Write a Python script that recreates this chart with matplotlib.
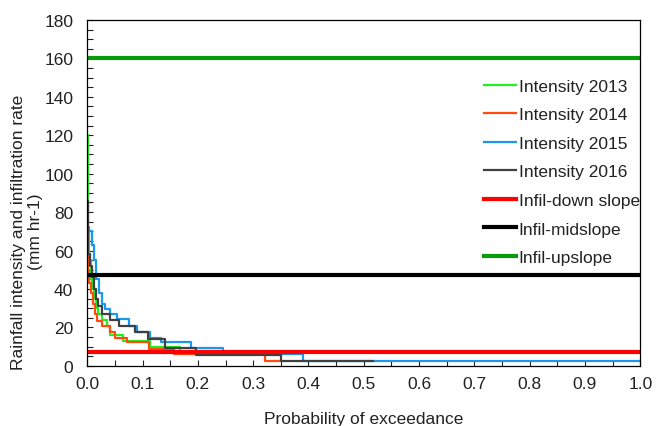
import matplotlib
matplotlib.use("Agg")
import matplotlib.pyplot as plt
from matplotlib.ticker import MultipleLocator

plt.rcParams['font.family'] = ['Liberation Sans', 'DejaVu Sans']

# exceedance-probability step curves: start of each step, value, last edge
p2013 = [0, 0.001, 0.003, 0.006, 0.009, 0.012, 0.016, 0.02, 0.027, 0.035, 0.041, 0.065, 0.113, 0.168]
v2013 = [120, 70, 55, 45, 40, 35, 30, 27, 24, 20.5, 16, 13, 9.6, 6]
end2013 = 0.2

p2014 = [0, 0.002, 0.004, 0.007, 0.01, 0.014, 0.018, 0.027, 0.042, 0.051, 0.072, 0.111, 0.157, 0.321]
v2014 = [58, 50, 43, 38, 32, 27, 23.4, 20.5, 17.4, 14.3, 12.2, 8.7, 6.1, 2.6]
end2014 = 0.351

p2015 = [0, 0.004, 0.008, 0.012, 0.016, 0.021, 0.027, 0.033, 0.042, 0.054, 0.075, 0.09, 0.113, 0.134, 0.188, 0.246, 0.39]
v2015 = [72, 70, 63, 55, 45, 38, 32, 29.5, 27, 24.3, 20.5, 17.7, 14.3, 12.2, 9, 6, 2.6]
end2015 = 1.0

p2016 = [0, 0.002, 0.005, 0.008, 0.012, 0.016, 0.02, 0.027, 0.042, 0.057, 0.087, 0.109, 0.141, 0.196, 0.351]
v2016 = [86, 58, 52, 46, 40, 35, 31, 27, 24, 20.8, 17.7, 13.9, 9.5, 5.6, 2.6]
end2016 = 0.517

infil_labels = ['Infil-down slope', 'Infil-midslope', 'Infil-upslope']
infil_rates = [7, 47, 160]
infil_colors = ['#ff0000', '#000000', '#0a9a0a']

fs = 12.5
txt = '#222222'

fig = plt.figure(figsize=(6.56, 4.27), dpi=100)
ax = fig.add_axes([0.133, 0.141, 0.843, 0.810])

series = [
    ('Intensity 2013', p2013, v2013, end2013, '#22ee22'),
    ('Intensity 2014', p2014, v2014, end2014, '#ff4a10'),
    ('Intensity 2015', p2015, v2015, end2015, '#1a98f0'),
    ('Intensity 2016', p2016, v2016, end2016, '#404040'),
]
for lab, p, v, end, col in series:
    ax.step(p + [end], v + [v[-1]], where='post', color=col, lw=1.6, label=lab)

for lab, rate, col in zip(infil_labels, infil_rates, infil_colors):
    ax.axhline(rate, color=col, lw=3, label=lab)

ax.set_xlim(0, 1)
ax.set_ylim(0, 180)
ax.xaxis.set_major_locator(MultipleLocator(0.1))
ax.xaxis.set_minor_locator(MultipleLocator(0.05))
ax.yaxis.set_major_locator(MultipleLocator(20))
ax.yaxis.set_minor_locator(MultipleLocator(5))
ax.tick_params(which='both', direction='in', length=4, width=0.8, labelsize=fs, colors=txt)
ax.tick_params(axis='x', pad=7)
ax.tick_params(axis='y', pad=10)
ax.xaxis.set_major_formatter(plt.FuncFormatter(lambda x, pos: '%.1f' % x))
for s in ax.spines.values():
    s.set_linewidth(0.9)

ax.set_xlabel('Probability of exceedance', fontsize=fs, color=txt)
ax.xaxis.set_label_coords(0.5, -0.13)
ax.set_ylabel('Rainfall intensity and infiltration rate\n(mm hr-1)', fontsize=fs, color=txt)
ax.yaxis.set_label_coords(-0.08, 0.39)

leg = ax.legend(loc='upper right', bbox_to_anchor=(1.012, 0.85), frameon=False, fontsize=fs,
                handlelength=1.85, handletextpad=0.17, labelspacing=0.77, borderaxespad=0.0)
for t in leg.get_texts():
    t.set_color(txt)

fig.savefig('out.png', dpi=100)
